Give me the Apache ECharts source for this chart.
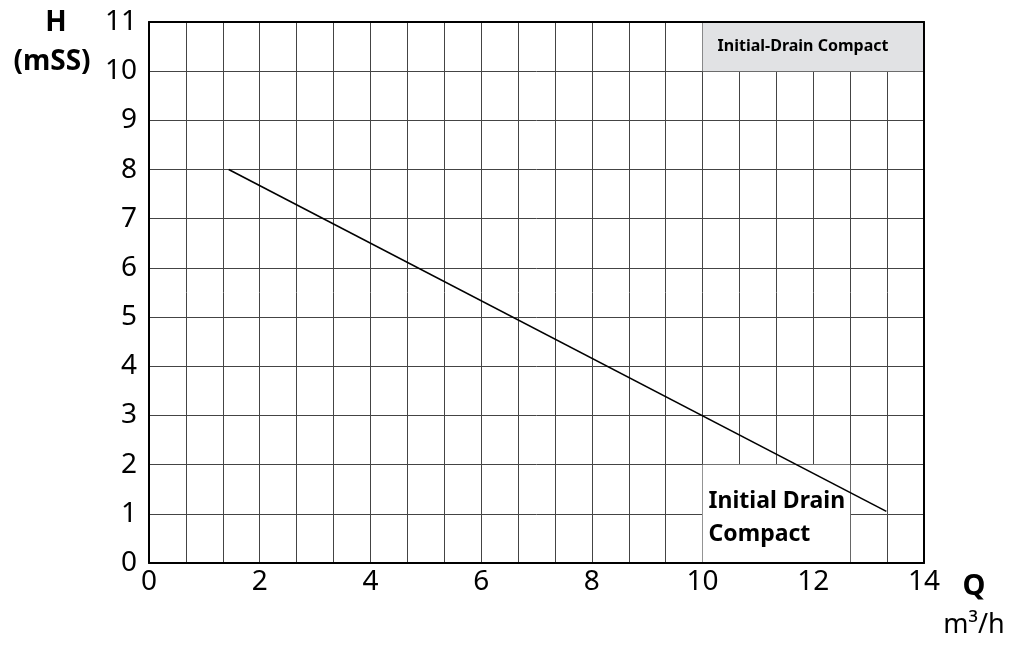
<!DOCTYPE html>
<html>
<head>
<meta charset="utf-8">
<script src="https://cdn.jsdelivr.net/npm/echarts@6/dist/echarts.min.js"></script>
<style>
	html, body { margin: 0; padding: 0; background: #fff; }
	#main { width: 1016px; height: 650px; }
</style>
</head>
<body>
<div id="main"></div>
<script>
// Q-H curve
var qValues = [1.44, 13.32];
var hValues = [8.0, 1.05];
var curveName = 'Initial Drain\nCompact';
var boxTitle = 'Initial-Drain Compact';

var FONT = '"Noto Sans", sans-serif';
var lineData = [];
for (var i = 0; i < qValues.length; i++) {
	lineData.push([qValues[i], hValues[i]]);
}

// frame-only axis (drawn above the boxes)
function frameAxis(pos, max, interval) {
	return {
		type: 'value', position: pos, min: 0, max: max, interval: interval, z: 10,
		axisLine: { show: true, onZero: false, lineStyle: { color: '#000', width: 2 } },
		axisTick: { show: false }, axisLabel: { show: false }, splitLine: { show: false }
	};
}

var option = {
	animation: false,
	backgroundColor: '#fff',
	grid: { left: 149, right: 92, top: 22, bottom: 87 },
	xAxis: [{
		type: 'value', min: 0, max: 14, interval: 2, z: 0,
		axisLine: { show: false },
		axisTick: { show: false },
		minorTick: { show: false, splitNumber: 3 },
		minorSplitLine: { show: true, lineStyle: { color: '#444', width: 1 } },
		splitLine: { show: true, lineStyle: { color: '#444', width: 1 } },
		axisLabel: { color: '#000', fontFamily: FONT, fontSize: 28, margin: 5 }
	}, frameAxis('bottom', 14, 2), frameAxis('top', 14, 2)],
	yAxis: [{
		type: 'value', min: 0, max: 11, interval: 1, z: 0,
		axisLine: { show: false },
		axisTick: { show: false },
		splitLine: { show: true, lineStyle: { color: '#444', width: 1 } },
		axisLabel: { color: '#000', fontFamily: FONT, fontSize: 28, margin: 12 }
	}, frameAxis('left', 11, 1), frameAxis('right', 11, 1)],
	graphic: [
		{ type: 'text', style: { text: 'H', x: 56, y: 23, align: 'center', verticalAlign: 'middle', font: 'bold 28px ' + FONT, fill: '#000' } },
		{ type: 'text', style: { text: '(mSS)', x: 52, y: 62, align: 'center', verticalAlign: 'middle', font: 'bold 28px ' + FONT, fill: '#000' } },
		{ type: 'text', style: { text: 'Q', x: 974, y: 587, align: 'center', verticalAlign: 'middle', font: 'bold 29px ' + FONT, fill: '#000' } },
		{ type: 'text', style: { text: 'm³/h', x: 974, y: 625, align: 'center', verticalAlign: 'middle', font: '27px ' + FONT, fill: '#000' } }
	],
	series: [{
		// annotation boxes, under the curve
		type: 'line', data: [], z: 1,
		markArea: {
			silent: true,
			data: [
				[{ coord: [10, 11], itemStyle: { color: '#e1e2e4' },
					label: { show: true, position: 'insideLeft', distance: 15, formatter: boxTitle,
						color: '#000', fontFamily: FONT, fontWeight: 'bold', fontSize: 16 } },
				 { coord: [14, 10] }],
				[{ coord: [10, 2], itemStyle: { color: '#fff' },
					label: { show: true, position: 'insideLeft', distance: 6, formatter: curveName,
						color: '#000', fontFamily: FONT, fontWeight: 'bold', fontSize: 23, lineHeight: 33, offset: [0, 4] } },
				 { coord: [38 / 3, 0] }]
			]
		}
	}, {
		name: 'Initial Drain Compact',
		type: 'line', z: 3,
		data: lineData,
		showSymbol: false,
		lineStyle: { color: '#000', width: 1.6 }
	}]
};

echarts.init(document.getElementById('main')).setOption(option);
</script>
</body>
</html>
